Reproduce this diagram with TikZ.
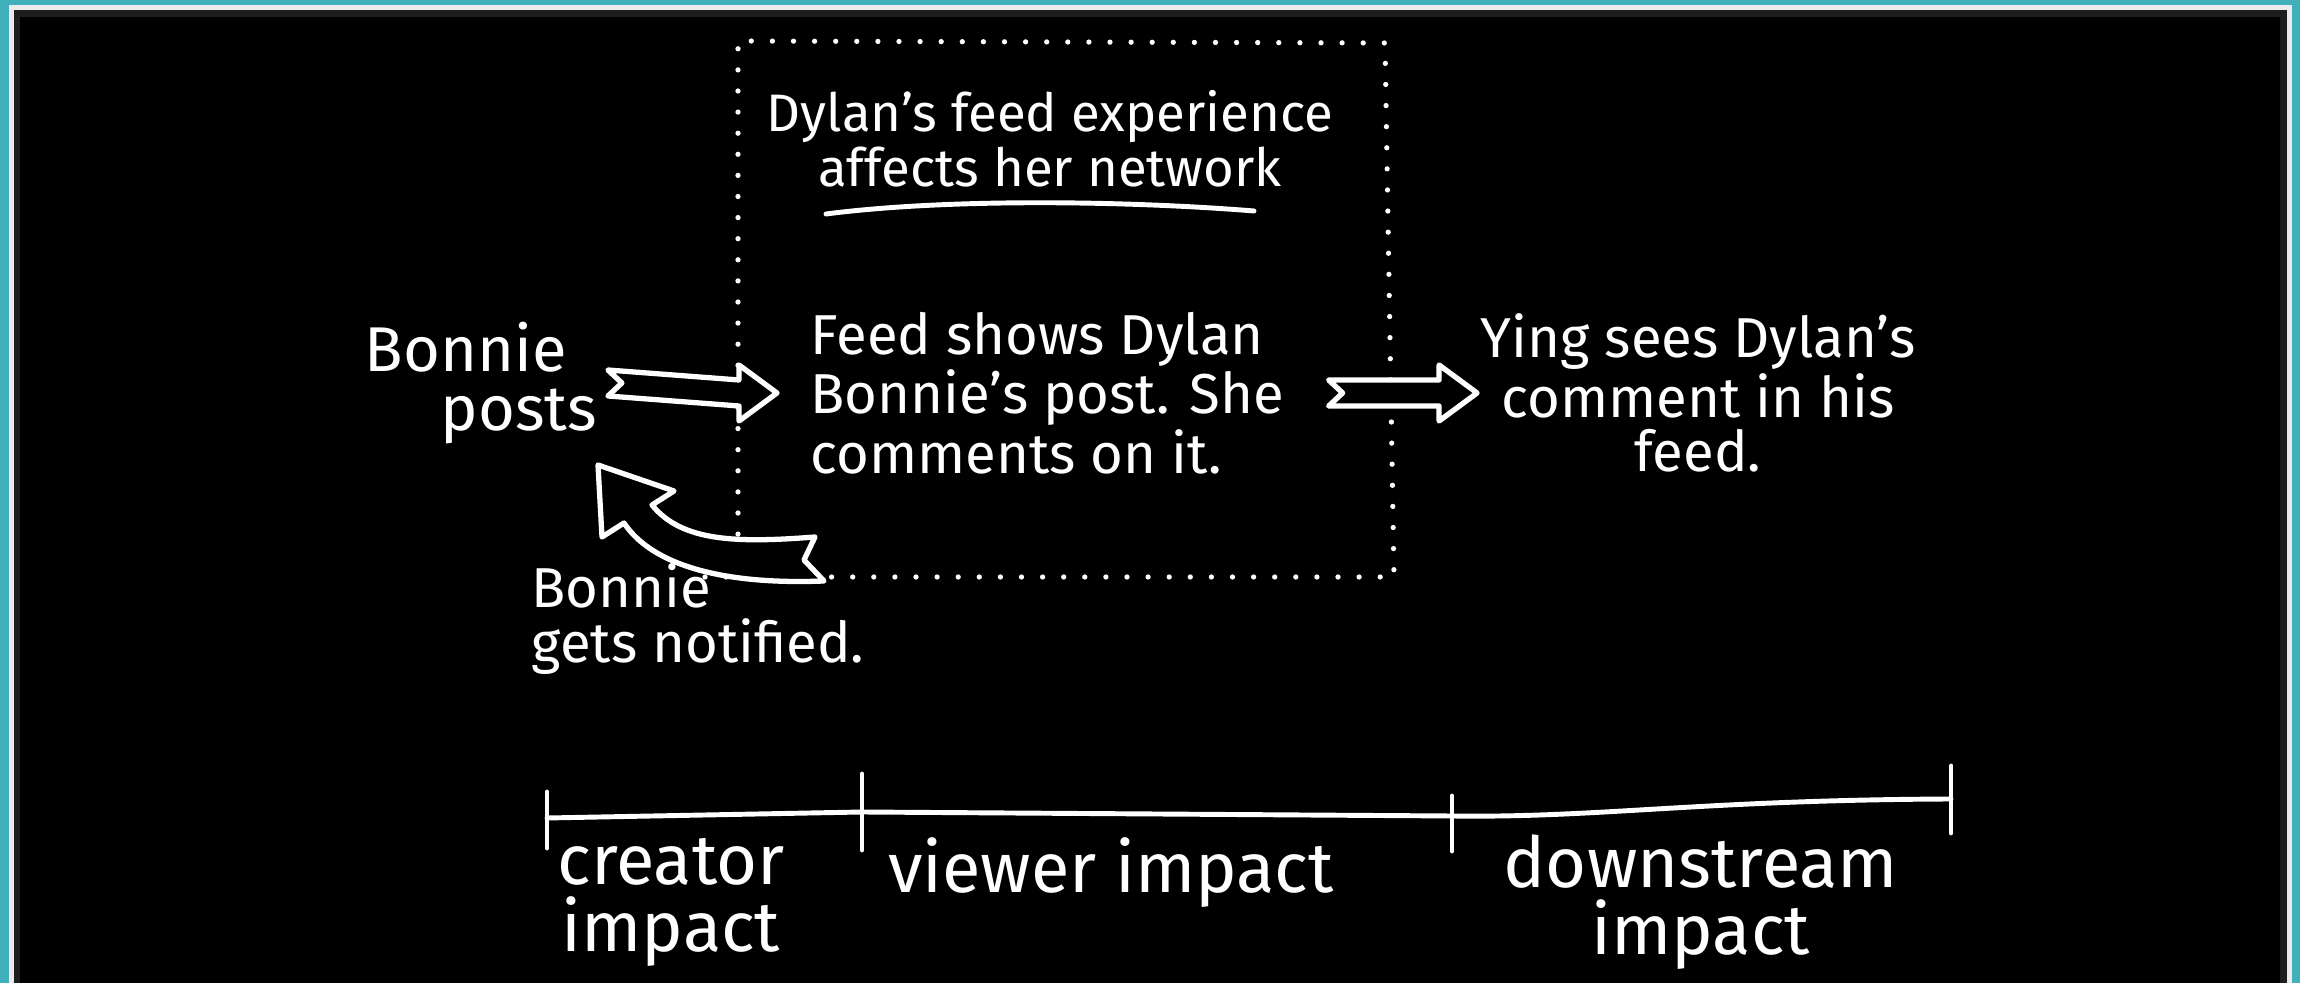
\documentclass[tikz,border=0pt]{standalone}
\usepackage{fontspec}
\setmainfont{Fira Sans}
\usetikzlibrary{calc}
\definecolor{tealframe}{HTML}{40B0BB}
\definecolor{edgegray}{HTML}{1E1E1E}

\begin{document}
\begin{tikzpicture}[x=0.01cm,y=-0.01cm,line join=round,
                    hand/.style={text=white,font=\fontsize{16}{15.5}\selectfont,inner sep=0pt},
                    scale label/.style={text=white,font=\fontsize{20}{19}\selectfont,align=center,inner sep=0pt},
                    hollow/.style={draw=white,fill=black,line width=1.5pt},
                    chalk/.style={draw=white,line width=1.4pt,line cap=round},
                    dots/.style={draw=white,line width=1.5pt,line cap=round,dash pattern=on 0pt off 6pt}]
  \useasboundingbox (0,0) rectangle (2300,983);
  % frame
  \fill[tealframe] (0,0) rectangle (2300,983);
  \fill[white!92!black] (9,5) rectangle (2292,983);
  \fill[edgegray] (14,10) rectangle (2287,983);
  \fill[black] (20,17) rectangle (2280,983);

  % dotted box round the viewer step
  \draw[dots] (705,577) -- (1394,577) -- (1385,43) -- (738,41) -- (738,577);
  \draw[chalk] (826,214) .. controls (950,198) and (1130,201) .. (1254,211);

  \node[hand,align=center,font=\fontsize{15}{15.5}\selectfont] (title) at (1050,139) {Dylan's feed experience\\affects her network};
  \node[hand,align=left,anchor=west,font=\fontsize{18}{17}\selectfont] (1) at (364,383) {Bonnie\\\hspace*{1.2em}posts};
  \node[hand,align=left,anchor=west] (2) at (810,393) {Feed shows Dylan\\Bonnie's post. She\\comments on it.};
  \node[hand,align=center] (3) at (1698,393) {Ying sees Dylan's\\comment in his\\feed.};
  \node[hand,align=left,anchor=west] (4) at (531,619) {Bonnie\\gets notified.};

  % hollow arrows
  \foreach \a/\b/\p/\q in {1/2/10/33,2/3/44/3}
    \draw[hollow] ($(\a.east)+(\p,-13)$) -- ($(\b.west)+(-\q-38,-13)$)
      -- ($(\b.west)+(-\q-38,-28)$) -- ($(\b.west)+(-\q,0)$)
      -- ($(\b.west)+(-\q-38,28)$) -- ($(\b.west)+(-\q-38,13)$)
      -- ($(\a.east)+(\p,13)$) -- ($(\a.east)+(\p+14,0)$) -- cycle;

  \coordinate (back) at (812,577);
  \begin{scope}[shift={(back)}]
    \draw[hollow] (-160,-72) .. controls (-130,-35) and (-75,-34) .. (3,-40)
      -- (-8,-17) -- (12,4) .. controls (-90,8) and (-160,-12) .. (-188,-54)
      -- (-210,-40) -- (-214,-112) -- (-138,-86) -- cycle;
  \end{scope}

  % timeline
  \coordinate (t0) at (547,818);
  \coordinate (t1) at (862,812);
  \coordinate (t2) at (1452,816);
  \coordinate (t3) at (1951,799);
  \draw[chalk] (t0) -- (t1) -- (t2) .. controls (1600,818) and (1700,800) .. (t3);
  \foreach \t/\u/\d in {t0/26/30,t1/38/38,t2/20/35,t3/33/34}
    \draw[chalk] ($(\t)+(0,-\u)$) -- ($(\t)+(0,\d)$);

  \node[scale label] (creator) at (671,902) {creator\\impact};
  \node[scale label] (viewer) at (1111,873) {viewer impact};
  \node[scale label] (downstream) at (1701,902) {downstream\\impact};
\end{tikzpicture}
\end{document}
